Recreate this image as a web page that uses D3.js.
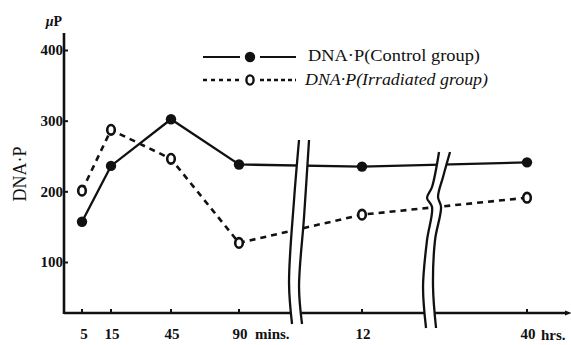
<!DOCTYPE html>
<html><head><meta charset="utf-8">
<script src="https://cdn.jsdelivr.net/npm/d3@7"></script>
<style>
html,body{margin:0;padding:0;background:#fff;}
svg{display:block;}
text{font-family:"Liberation Serif","DejaVu Serif",serif;fill:#111;}
</style></head>
<body>
<script>
// ---- data ----
const timeMin = [5, 15, 45, 90, 720, 2400];          // sampling times in minutes
const tickLabels = ["5", "15", "45", "90", "12", "40"];
const control = [157, 236, 302, 238, 235, 241];        // DNA-P control group
const irradiated = [201, 287, 246, 127, 167, 191];     // DNA-P irradiated group
const yTicks = [100, 200, 300, 400];
const breaksAt = [418, 1484];                          // axis breaks (minutes)
const seriesNames = ["DNA·P(Control group)", "DNA·P(Irradiated group)"];

const W = 571, H = 345;
const svg = d3.select("body").append("svg").attr("width", W).attr("height", H);

const x = d3.scaleLinear().domain(timeMin).range([82, 111, 171, 239, 362, 527]);
const y = d3.scaleLinear().domain([100, 400]).range([262, 50]);
const axisX = 64, baseY = 313, topY = 33;

const ink = "#111";

// lines
const line = d3.line().x((d, i) => x(timeMin[i])).y(d => y(d));
svg.append("path").datum(control).attr("d", line)
  .attr("fill", "none").attr("stroke", ink).attr("stroke-width", 2.3);
svg.append("path").datum(irradiated).attr("d", line)
  .attr("fill", "none").attr("stroke", ink).attr("stroke-width", 2.6)
  .attr("stroke-dasharray", "6,5");

// x axis baseline with arrow
svg.append("line").attr("x1", axisX).attr("x2", 566).attr("y1", baseY).attr("y2", baseY)
  .attr("stroke", ink).attr("stroke-width", 2.3);
svg.append("path").attr("d", `M565,${baseY - 2.5}L572,${baseY}L565,${baseY + 2.5}Z`).attr("fill", ink);
// x ticks
svg.selectAll(".xt").data(timeMin).enter().append("line")
  .attr("x1", d => x(d)).attr("x2", d => x(d))
  .attr("y1", baseY).attr("y2", baseY - 4)
  .attr("stroke", ink).attr("stroke-width", 2);
svg.selectAll(".xl").data(tickLabels).enter().append("text")
  .attr("x", (d, i) => x(timeMin[i]) + (i === 0 ? 2 : 1)).attr("y", 339)
  .attr("text-anchor", "middle").attr("font-size", 15).attr("font-weight", "bold").text(d => d);
svg.append("text").attr("x", x(90) + 16).attr("y", 339).attr("font-size", 15).attr("font-weight", "bold").text("mins.");
svg.append("text").attr("x", x(2400) + 14).attr("y", 340).attr("font-size", 15).attr("font-weight", "bold").text("hrs.");

// y axis
const yAxis = d3.axisLeft(y).tickValues(yTicks).tickSizeInner(-4).tickSizeOuter(0).tickPadding(1);
const gy = svg.append("g").attr("transform", `translate(${axisX},0)`).call(yAxis);
gy.select(".domain").remove();
gy.selectAll(".tick line").attr("stroke", ink).attr("stroke-width", 2);
gy.selectAll(".tick text").attr("font-size", 15).attr("font-weight", "bold")
  .attr("font-family", "Liberation Serif, serif").attr("fill", ink);
svg.append("line").attr("x1", axisX).attr("x2", axisX).attr("y1", topY).attr("y2", baseY + 1)
  .attr("stroke", ink).attr("stroke-width", 2.6);

svg.append("text").attr("x", 54).attr("y", 26).attr("text-anchor", "middle")
  .attr("font-size", 14).attr("font-weight", "bold")
  .html('<tspan font-style="italic">μ</tspan>P');
svg.append("text").attr("transform", "translate(26,174) rotate(-90)")
  .attr("text-anchor", "middle").attr("font-size", 18).text("DNA·P");

// breaks (shape offsets relative to break center)
const breakShapes = [
  { left: [[0, 140], [-5, 200], [-10, 283], [-7, 324]], right: [[10, 140], [5, 217], [0, 287], [3, 324]] },
  { left: [[6, 152], [-1, 187], [-6, 198], [-1, 207], [-6, 240], [-10, 287], [-7, 328]],
    right: [[17, 152], [10, 177], [5, 197], [8, 207], [2, 240], [0, 287], [3, 328]] }
];
const curve = d3.line().curve(d3.curveCatmullRom);
breaksAt.forEach((b, i) => {
  const cx = x(b) - 4;
  const L = breakShapes[i].left.map(p => [cx + p[0], p[1]]);
  const R = breakShapes[i].right.map(p => [cx + p[0], p[1]]);
  const poly = L.concat(R.slice().reverse());
  svg.append("path").attr("d", d3.line()(poly) + "Z").attr("fill", "#fff");
  svg.append("path").attr("d", curve(L)).attr("fill", "none").attr("stroke", ink).attr("stroke-width", 2.3);
  svg.append("path").attr("d", curve(R)).attr("fill", "none").attr("stroke", ink).attr("stroke-width", 2.3);
});

// markers
svg.selectAll(".cp").data(control).enter().append("circle")
  .attr("cx", (d, i) => x(timeMin[i])).attr("cy", d => y(d)).attr("r", 5.2).attr("fill", ink);
svg.selectAll(".ip").data(irradiated).enter().append("ellipse")
  .attr("cx", (d, i) => x(timeMin[i])).attr("cy", d => y(d)).attr("rx", 3.8).attr("ry", 4.8)
  .attr("fill", "#fff").attr("stroke", ink).attr("stroke-width", 2.6);

// legend
const lg = svg.append("g");
lg.append("line").attr("x1", 203).attr("x2", 240).attr("y1", 57).attr("y2", 57).attr("stroke", ink).attr("stroke-width", 2);
lg.append("line").attr("x1", 260).attr("x2", 296).attr("y1", 57).attr("y2", 57).attr("stroke", ink).attr("stroke-width", 2);
lg.append("circle").attr("cx", 250).attr("cy", 57).attr("r", 5.2).attr("fill", ink);
lg.append("line").attr("x1", 203).attr("x2", 240).attr("y1", 80).attr("y2", 80).attr("stroke", ink).attr("stroke-width", 2.4).attr("stroke-dasharray", "4,4");
lg.append("line").attr("x1", 260).attr("x2", 296).attr("y1", 80).attr("y2", 80).attr("stroke", ink).attr("stroke-width", 2.4).attr("stroke-dasharray", "4,3");
lg.append("ellipse").attr("cx", 250).attr("cy", 80).attr("rx", 3.6).attr("ry", 4.6).attr("fill", "#fff").attr("stroke", ink).attr("stroke-width", 2.4);
lg.append("text").attr("x", 308).attr("y", 61).attr("font-size", 17)
  .attr("textLength", 172).attr("lengthAdjust", "spacingAndGlyphs").text(seriesNames[0]);
lg.append("text").attr("x", 305).attr("y", 85).attr("font-size", 17).attr("font-style", "italic")
  .attr("textLength", 183).attr("lengthAdjust", "spacingAndGlyphs").text(seriesNames[1]);
</script>
</body></html>
